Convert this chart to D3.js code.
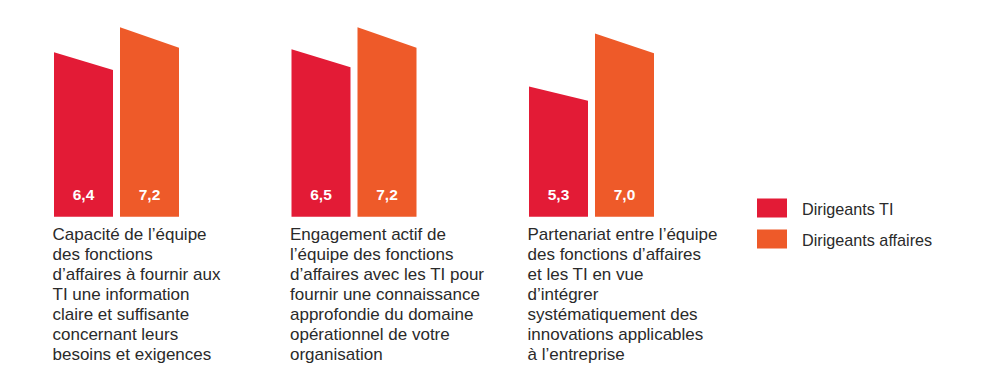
<!DOCTYPE html>
<html>
<head>
<meta charset="utf-8">
<script src="https://cdn.jsdelivr.net/npm/d3@7"></script>
<style>
  html, body { margin: 0; padding: 0; background: #fff; }
  svg { display: block; }
</style>
</head>
<body>
<svg id="chart" width="1000" height="381"></svg>
<script>
const categories = ["cap", "eng", "part"];
const seriesNames = ["Dirigeants TI", "Dirigeants affaires"];
const dirigeantsTI = [6.4, 6.5, 5.3];
const dirigeantsAffaires = [7.2, 7.2, 7.0];
const valueLabelsTI = ["6,4", "6,5", "5,3"];
const valueLabelsAffaires = ["7,2", "7,2", "7,0"];
const categoryLabels = [
  ["Capacité de l’équipe", "des fonctions", "d’affaires à fournir aux", "TI une information", "claire et suffisante", "concernant leurs", "besoins et exigences"],
  ["Engagement actif de", "l’équipe des fonctions", "d’affaires avec les TI pour", "fournir une connaissance", "approfondie du domaine", "opérationnel de votre", "organisation"],
  ["Partenariat entre l’équipe", "des fonctions d’affaires", "et les TI en vue", "d’intégrer", "systématiquement des", "innovations applicables", "à l’entreprise"]
];
const colors = ["#e31b36", "#ee5a29"];

const svg = d3.select("#chart");
const font = "'Liberation Sans', Arial, Helvetica, sans-serif";

const baseline = 216.7;
const y = d3.scaleLinear().domain([1.13, 7.2]).range([baseline, baseline - 189.4]);
const x0 = d3.scaleBand().domain(categories).range([54, 54 + 3 * 237.5]).paddingInner(0).paddingOuter(0);
const x1 = d3.scaleBand().domain(seriesNames).range([0, 125]).paddingInner(0.106).paddingOuter(0);

const data = categories.map((c, i) => ({
  cat: c,
  vals: [
    { s: seriesNames[0], v: dirigeantsTI[i], lab: valueLabelsTI[i] },
    { s: seriesNames[1], v: dirigeantsAffaires[i], lab: valueLabelsAffaires[i] }
  ]
}));

const slant = 0.892;

const g = svg.selectAll("g.grp").data(data).join("g")
  .attr("class", "grp")
  .attr("transform", d => `translate(${x0(d.cat)},0)`);

g.selectAll("path.bar").data(d => d.vals).join("path")
  .attr("class", "bar")
  .attr("fill", (d, i) => colors[i])
  .attr("d", d => {
    const xl = x1(d.s), xr = xl + x1.bandwidth();
    const yl = y(d.v);
    const yr = baseline - slant * (baseline - yl);
    return `M${xl},${baseline}L${xl},${yl}L${xr},${yr}L${xr},${baseline}Z`;
  });

g.selectAll("text.val").data(d => d.vals).join("text")
  .attr("class", "val")
  .attr("x", d => x1(d.s) + x1.bandwidth() / 2)
  .attr("y", 200)
  .attr("text-anchor", "middle")
  .attr("fill", "#fff")
  .attr("font-family", font)
  .attr("font-weight", "bold")
  .attr("font-size", 15.5)
  .text(d => d.lab);

g.append("text")
  .attr("font-family", font)
  .attr("font-size", 17)
  .attr("fill", "#2a2a2a")
  .selectAll("tspan")
  .data((d, i) => categoryLabels[i])
  .join("tspan")
  .attr("x", -1.5)
  .attr("y", (d, i) => 240 + i * 20)
  .text(d => d);

const legend = svg.append("g").attr("class", "legend");
const li = legend.selectAll("g").data(seriesNames).join("g")
  .attr("transform", (d, i) => `translate(757,${198.5 + i * 31})`);
li.append("rect").attr("width", 30).attr("height", 19).attr("fill", (d, i) => colors[i]);
li.append("text")
  .attr("x", 45).attr("y", 16.5)
  .attr("font-family", font)
  .attr("font-size", 16.2)
  .attr("fill", "#2a2a2a")
  .text(d => d);
</script>
</body>
</html>
